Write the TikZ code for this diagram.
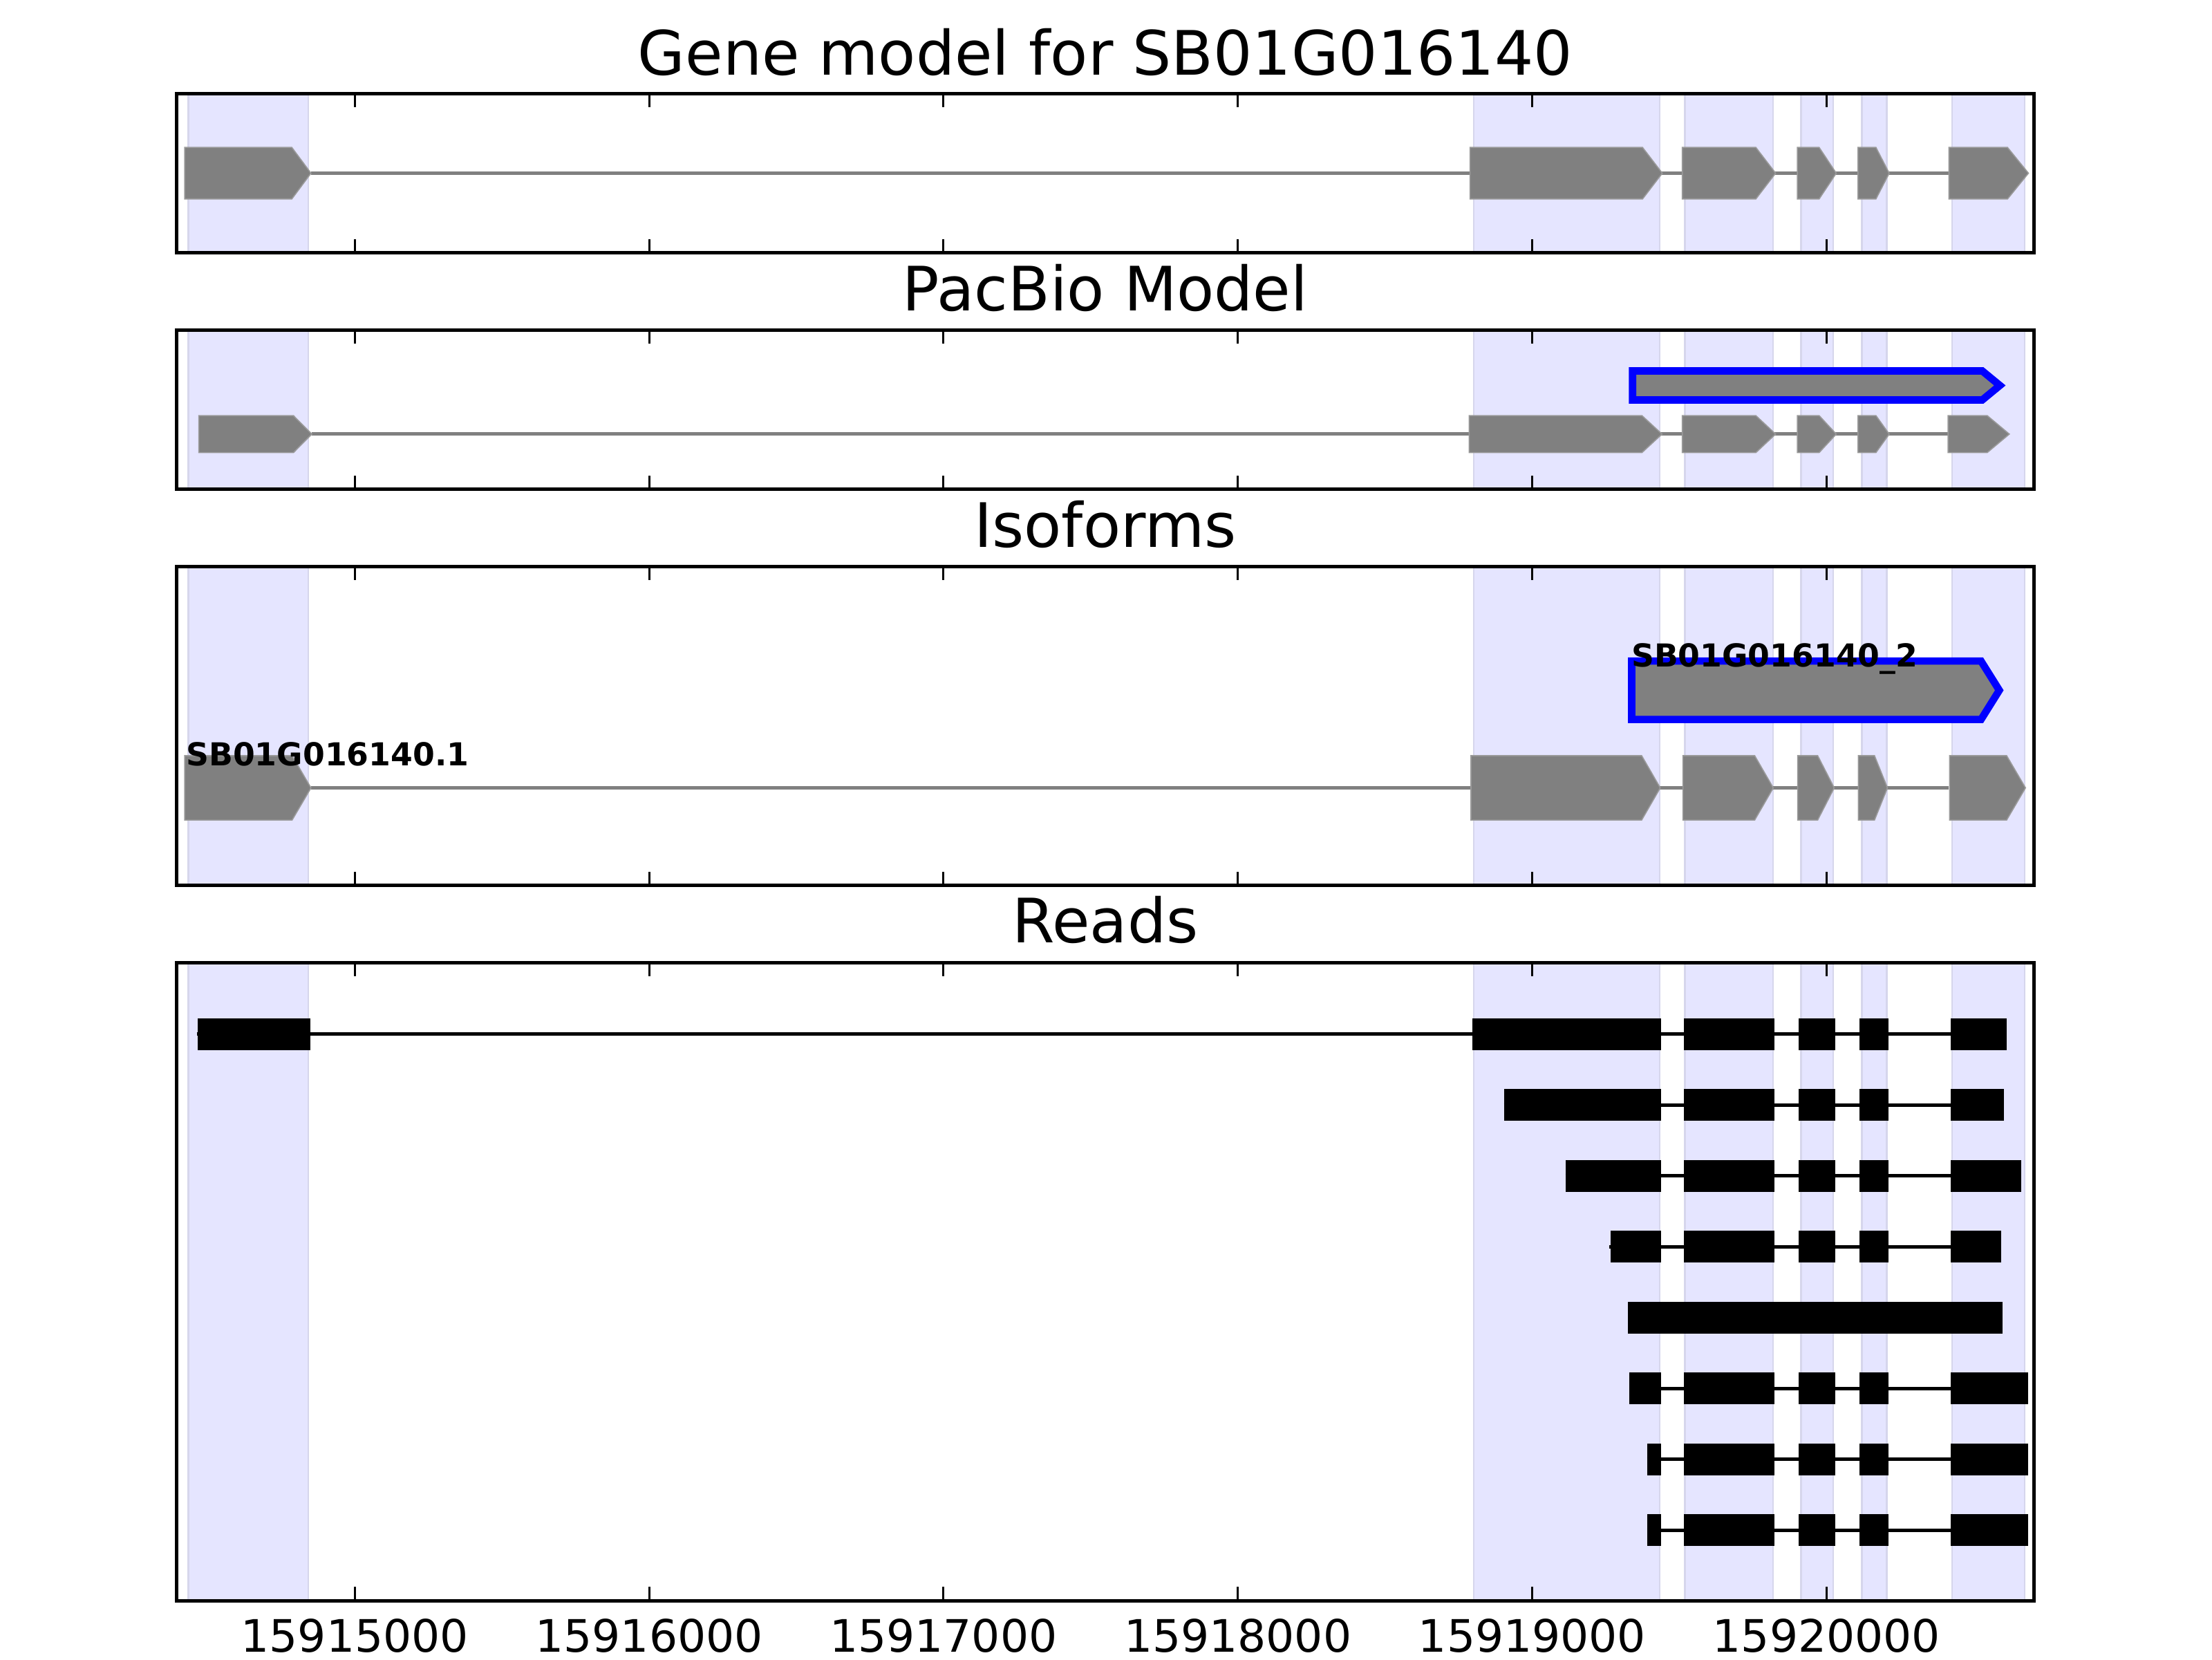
\documentclass[tikz,border=0pt]{standalone}
\usepackage{fontspec}
\setmainfont{DejaVu Sans}
\definecolor{spanfill}{HTML}{E5E5FF}
\definecolor{spanedge}{HTML}{D6D6EC}
\definecolor{exongray}{HTML}{808080}
\definecolor{exonedge}{HTML}{9A9A9A}
\tikzset{
  frame/.style={draw=black, line width=0.025cm},
  spanbox/.style={fill=spanfill, draw=spanedge, line width=0.012cm},
  exonbox/.style={fill=exongray, draw=exonedge, line width=0.008cm},
  intronline/.style={draw=exongray, line width=0.025cm},
  tickmark/.style={draw=black, line width=0.015cm},
  readbox/.style={fill=black},
  readline/.style={draw=black, line width=0.025cm},
  pacbox/.style={fill=exongray, draw=blue, line width=0.053cm, miter limit=10},
  ttl/.style={font=\fontsize{12.6}{15}\selectfont, anchor=base, inner sep=0pt},
  ticklab/.style={font=\fontsize{9.2}{11}\selectfont, anchor=base, inner sep=0pt},
  isolab/.style={font=\fontsize{6.5}{8}\selectfont\bfseries, anchor=base west, inner sep=0pt},
}
% start, flat end, tip, y centre, half height
\newcommand{\gexon}[5]{%
  \path[exonbox] (#1,{#4-#5}) -- (#2,{#4-#5}) -- (#3,#4) -- (#2,{#4+#5}) -- (#1,{#4+#5}) -- cycle;}
\begin{document}
\begin{tikzpicture}
\useasboundingbox (0,0) rectangle (16,12);
\fill[white] (0,0) rectangle (16,12);
\begin{scope}[shift={(2.5665cm,12cm)}, x=2.129cm, y=-0.005cm]
\def\L{-0.6066}
\def\R{5.706}
% shaded exon regions
\foreach \t/\b in {135/365.5, 476.8/707.3, 818.6/1279.6, 1390.9/2312.9} {
  \foreach \a/\e in {-0.566/-0.158, 3.801/4.433, 4.519/4.819, 4.913/5.022, 5.120/5.205, 5.427/5.673} {
    \path[spanbox] (\a,\t) rectangle (\e,\b);
  }
}
% ---- Panel 1: gene model
\draw[intronline] (-0.149,250.3) -- (5.416,250.3);
\gexon{-0.578}{-0.214}{-0.149}{250.3}{37.2}
\gexon{3.789}{4.375}{4.442}{250.3}{37.2}
\gexon{4.510}{4.760}{4.827}{250.3}{37.2}
\gexon{4.901}{4.975}{5.033}{250.3}{37.2}
\gexon{5.107}{5.168}{5.213}{250.3}{37.2}
\gexon{5.416}{5.615}{5.686}{250.3}{37.2}
% ---- Panel 2: PacBio model
\path[pacbox] (4.341,536) -- (5.529,536) -- (5.589,557) -- (5.529,578) -- (4.341,578) -- cycle;
\draw[intronline] (-0.146,627.3) -- (5.413,627.3);
\gexon{-0.530}{-0.2085}{-0.146}{627.3}{26.7}
\gexon{3.786}{4.373}{4.441}{627.3}{26.7}
\gexon{4.510}{4.760}{4.827}{627.3}{26.7}
\gexon{4.901}{4.975}{5.033}{627.3}{26.7}
\gexon{5.107}{5.168}{5.213}{627.3}{26.7}
\gexon{5.413}{5.546}{5.621}{627.3}{26.7}
% ---- Panel 3: isoforms
\path[pacbox] (4.338,955.3) -- (5.525,955.3) -- (5.587,997.5) -- (5.525,1039.7) -- (4.338,1039.7) -- cycle;
\draw[intronline] (-0.149,1138.5) -- (5.416,1138.5);
\gexon{-0.578}{-0.213}{-0.149}{1138.5}{46.5}
\gexon{3.792}{4.372}{4.435}{1138.5}{46.5}
\gexon{4.512}{4.756}{4.819}{1138.5}{46.5}
\gexon{4.902}{4.970}{5.026}{1138.5}{46.5}
\gexon{5.108}{5.163}{5.207}{1138.5}{46.5}
\gexon{5.418}{5.612}{5.676}{1138.5}{46.5}
\node[isolab] (iso1) at (-0.576,1106.7) {SB01G016140.1};
\node[isolab] (iso2) at (4.334,963.3) {SB01G016140\_2};
% ---- Panel 4: reads
% row 1
\draw[readline] (-0.537,1494.3) -- (5.613,1494.3);
\foreach \a/\e in {-0.534/-0.152, 3.796/4.439, 4.516/4.823, 4.906/5.030, 5.111/5.210, 5.423/5.613}
  {\fill[readbox] (\a,1471.3) rectangle (\e,1517.3);}
% row 2
\draw[readline] (3.904,1596.7) -- (5.603,1596.7);
\foreach \a/\e in {3.904/4.439, 4.516/4.823, 4.906/5.030, 5.111/5.210, 5.423/5.603}
  {\fill[readbox] (\a,1573.7) rectangle (\e,1619.7);}
% row 3
\draw[readline] (4.113,1699.1) -- (5.662,1699.1);
\foreach \a/\e in {4.113/4.439, 4.516/4.823, 4.906/5.030, 5.111/5.210, 5.423/5.662}
  {\fill[readbox] (\a,1676.1) rectangle (\e,1722.1);}
% row 4
\draw[readline] (4.262,1801.5) -- (5.594,1801.5);
\foreach \a/\e in {4.266/4.439, 4.516/4.823, 4.906/5.030, 5.111/5.210, 5.423/5.594}
  {\fill[readbox] (\a,1778.5) rectangle (\e,1824.5);}
% row 5
\fill[readbox] (4.326,1880.9) rectangle (5.598,1926.9);
% row 6
\draw[readline] (4.330,2006.3) -- (5.685,2006.3);
\foreach \a/\e in {4.330/4.439, 4.516/4.823, 4.906/5.030, 5.111/5.210, 5.423/5.685}
  {\fill[readbox] (\a,1983.3) rectangle (\e,2029.3);}
% row 7
\draw[readline] (4.390,2108.7) -- (5.685,2108.7);
\foreach \a/\e in {4.390/4.439, 4.516/4.823, 4.906/5.030, 5.111/5.210, 5.423/5.685}
  {\fill[readbox] (\a,2085.7) rectangle (\e,2131.7);}
% row 8
\draw[readline] (4.390,2211.1) -- (5.685,2211.1);
\foreach \a/\e in {4.390/4.439, 4.516/4.823, 4.906/5.030, 5.111/5.210, 5.423/5.685}
  {\fill[readbox] (\a,2188.1) rectangle (\e,2234.1);}
% ---- frames and ticks
\foreach \t/\b in {135/365.5, 476.8/707.3, 818.6/1279.6, 1390.9/2312.9} {
  \draw[frame] (\L,\t) rectangle (\R,\b);
  \foreach \k in {0,...,5} {
    \draw[tickmark] (\k,\t) -- (\k,{\t+20});
    \draw[tickmark] (\k,\b) -- (\k,{\b-20});
  }
}
% titles
\node[ttl] (t1) at (2.5497,108) {Gene model for SB01G016140};
\node[ttl] (t2) at (2.5497,449.3) {PacBio Model};
\node[ttl] (t3) at (2.5497,790.8) {Isoforms};
\node[ttl] (t4) at (2.5497,1362.7) {Reads};
% tick labels
\foreach \k/\lab in {0/15915000, 1/15916000, 2/15917000, 3/15918000, 4/15919000, 5/15920000}
  {\node[ticklab] (tl\k) at (\k,2387.3) {\lab};}
\end{scope}
\end{tikzpicture}
\end{document}
